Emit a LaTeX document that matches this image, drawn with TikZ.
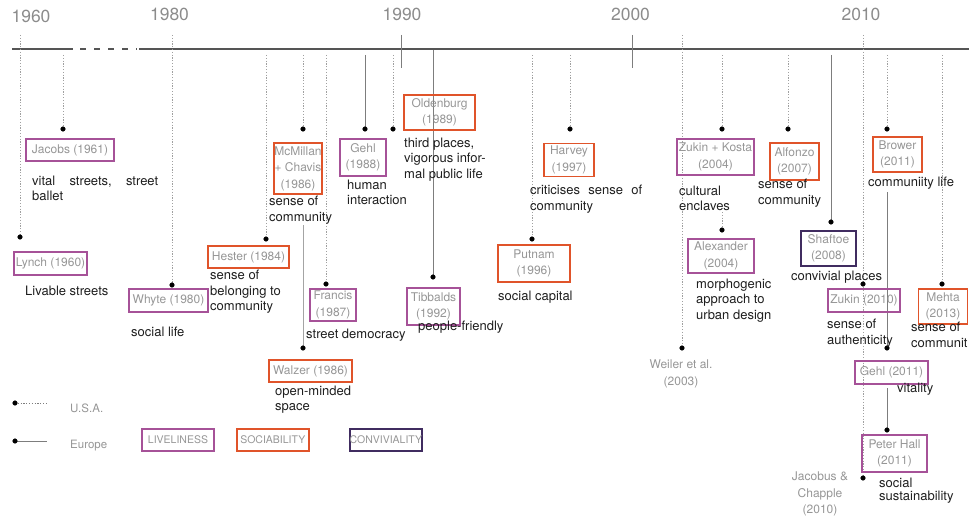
\documentclass[tikz,border=0pt]{standalone}
\usepackage{fontspec}
\setmainfont{TeX Gyre Heros}
\usetikzlibrary{positioning}

\definecolor{lively}{RGB}{166,82,152}
\definecolor{sociable}{RGB}{224,84,42}
\definecolor{convivial}{RGB}{64,44,96}
\definecolor{namegray}{RGB}{150,150,150}
\definecolor{yeargray}{RGB}{140,140,140}
\definecolor{linegray}{RGB}{125,125,125}
\definecolor{dotgray}{RGB}{160,160,160}
\definecolor{axisgray}{RGB}{85,85,85}
\definecolor{textdark}{RGB}{30,30,30}

\newcommand{\yearfont}{\fontsize{17.5}{20}\selectfont}
\newcommand{\namefont}{\fontsize{12}{16.5}\selectfont}
\newcommand{\descfont}{\fontsize{13}{15.3}\selectfont}
\newcommand{\keyfont}{\fontsize{10.5}{12}\selectfont}
\newcommand{\legendfont}{\fontsize{11.5}{13}\selectfont}

\begin{document}
\begin{tikzpicture}[
    x=1pt, y=-1pt,
    livelynode/.style={rectangle, draw=lively, line width=1.8pt, inner sep=0pt, align=center, text=namegray, font=\namefont},
    sociablenode/.style={rectangle, draw=sociable, line width=1.8pt, inner sep=0pt, align=center, text=namegray, font=\namefont},
    convivialnode/.style={rectangle, draw=convivial, line width=1.8pt, inner sep=0pt, align=center, text=namegray, font=\namefont},
    descnode/.style={anchor=north west, inner sep=0pt, align=left, text=textdark, font=\descfont},
    plainnode/.style={inner sep=0pt, align=center, text=namegray, font=\namefont},
    yearnode/.style={inner sep=0pt, text=yeargray, font=\yearfont},
    usaline/.style={dotgray, line width=0.9pt, dash pattern=on 1.2pt off 1.6pt},
    europeline/.style={linegray, line width=1pt},
    axisline/.style={axisgray, line width=2pt},
    ]
      \useasboundingbox (0,0) rectangle (969,519);

      %Timeline
      \draw[axisline] (12,49) -- (73,49);
      \draw[axisline, dash pattern=on 6pt off 8pt] (80,49) -- (137,49);
      \draw[axisline] (139,49) -- (969,49);

      \node (y1960) [yearnode] at (31,16)    {1960};
      \node (y1980) [yearnode] at (169.5,14) {1980};
      \node (y1990) [yearnode] at (402,14)   {1990};
      \node (y2000) [yearnode] at (630.5,14) {2000};
      \node (y2010) [yearnode] at (861,14)   {2010};

      %Top ends
      \coordinate (lynchtop)     at (20,35);
      \coordinate (jacobstop)    at (63,55);
      \coordinate (whytetop)     at (172,35);
      \coordinate (hestertop)    at (266,55);
      \coordinate (mcmillantop)  at (303,55);
      \coordinate (walzertop)    at (303,225);
      \coordinate (francistop)   at (326,55);
      \coordinate (gehlatop)     at (365,55);
      \coordinate (oldenburgtop) at (393,55);
      \coordinate (tibbaldstop)  at (433,50);
      \coordinate (putnamtop)    at (532,55);
      \coordinate (harveytop)    at (570,55);
      \coordinate (weilertop)    at (682,35);
      \coordinate (zukinkostatop) at (722,55);
      \coordinate (alexandertop) at (722,212);
      \coordinate (alfonzotop)   at (788,55);
      \coordinate (shaftoetop)   at (831,55);
      \coordinate (zukintop)     at (863,35);
      \coordinate (browertop)    at (887,55);
      \coordinate (gehlbtop)     at (887,192);
      \coordinate (halltop)      at (887,388);
      \coordinate (mehtatop)     at (942,55);
      \coordinate (tick1990a)    at (401,35);
      \coordinate (tick1990b)    at (401,68);
      \coordinate (tick2000a)    at (632,35);
      \coordinate (tick2000b)    at (632,68);

      %Dots
      \coordinate (lynchdot)     at (20,237);
      \coordinate (jacobsdot)    at (63,129);
      \coordinate (whytedot)     at (172,285);
      \coordinate (hesterdot)    at (266,239);
      \coordinate (mcmillandot)  at (303,129);
      \coordinate (walzerdot)    at (303,348);
      \coordinate (francisdot)   at (326,284);
      \coordinate (gehladot)     at (365,129);
      \coordinate (oldenburgdot) at (393,129);
      \coordinate (tibbaldsdot)  at (433,277);
      \coordinate (putnamdot)    at (532,239);
      \coordinate (harveydot)    at (570,129);
      \coordinate (weilerdot)    at (682,348);
      \coordinate (zukinkostadot) at (722,129);
      \coordinate (alexanderdot) at (722,230);
      \coordinate (alfonzodot)   at (788,129);
      \coordinate (shaftoedot)   at (831,222);
      \coordinate (zukindot)     at (863,284);
      \coordinate (jacobusdot)   at (863,478);
      \coordinate (browerdot)    at (887,129);
      \coordinate (gehlbdot)     at (887,348);
      \coordinate (halldot)      at (887,430);
      \coordinate (mehtadot)     at (942,284);

      %Lines
      \draw[europeline] (tick1990a) to (tick1990b);
      \draw[europeline] (tick2000a) to (tick2000b);

      \draw[usaline] (lynchtop)      to (lynchdot);
      \draw[usaline] (jacobstop)     to (jacobsdot);
      \draw[usaline] (whytetop)      to (whytedot);
      \draw[usaline] (hestertop)     to (hesterdot);
      \draw[usaline] (mcmillantop)   to (mcmillandot);
      \draw[europeline, linegray!70, line width=0.8pt] (walzertop) to (walzerdot);
      \draw[usaline] (francistop)    to (francisdot);
      \draw[europeline] (gehlatop)   to (gehladot);
      \draw[usaline] (oldenburgtop)  to (oldenburgdot);
      \draw[europeline] (tibbaldstop) to (tibbaldsdot);
      \draw[usaline] (putnamtop)     to (putnamdot);
      \draw[usaline] (harveytop)     to (harveydot);
      \draw[usaline] (weilertop)     to (weilerdot);
      \draw[usaline] (zukinkostatop) to (zukinkostadot);
      \draw[usaline] (alexandertop)  to (alexanderdot);
      \draw[usaline] (alfonzotop)    to (alfonzodot);
      \draw[europeline] (shaftoetop) to (shaftoedot);
      \draw[usaline] (zukintop)      to (zukindot) to (jacobusdot);
      \draw[usaline] (browertop)     to (browerdot);
      \draw[europeline] (gehlbtop)   to (gehlbdot);
      \draw[europeline] (halltop)    to (halldot);
      \draw[usaline] (mehtatop)      to (mehtadot);

      \foreach \d in {lynchdot, jacobsdot, whytedot, hesterdot, mcmillandot, walzerdot,
                      francisdot, gehladot, oldenburgdot, tibbaldsdot, putnamdot, harveydot,
                      weilerdot, zukinkostadot, alexanderdot, alfonzodot, shaftoedot, zukindot,
                      jacobusdot, browerdot, gehlbdot, halldot, mehtadot}
        \filldraw [black] (\d) circle (2.3pt);

      %Nodes
      \node (lynch)      [livelynode, minimum width=73, minimum height=23] at (50.5,263.5) {Lynch (1960)};
      \node (jacobs)     [livelynode, minimum width=88, minimum height=22] at (70,150) {Jacobs (1961)};
      \node (whyte)      [livelynode, minimum width=79, minimum height=23] at (168.5,300.5) {Whyte (1980)};
      \node (hester)     [sociablenode, minimum width=81, minimum height=22] at (248.5,257) {Hester (1984)};
      \node (mcmillan)   [sociablenode, minimum width=48, minimum height=51] at (298,168.5) {McMillan\\+ Chavis\\(1986)};
      \node (walzer)     [sociablenode, minimum width=83, minimum height=22] at (310.5,371) {Walzer (1986)};
      \node (francis)    [livelynode, minimum width=46, minimum height=32] at (333,305) {Francis\\(1987)};
      \node (gehla)      [livelynode, minimum width=46, minimum height=37] at (363,157.5) {Gehl\\(1988)};
      \node (oldenburg)  [sociablenode, minimum width=71, minimum height=35] at (439.5,112.5) {Oldenburg\\(1989)};
      \node (tibbalds)   [livelynode, minimum width=53, minimum height=37] at (433.5,306.5) {Tibbalds\\(1992)};
      \node (putnam)     [sociablenode, minimum width=72, minimum height=37] at (534,263.5) {Putnam\\(1996)};
      \node (harvey)     [sociablenode, minimum width=50, minimum height=33] at (569,160) {Harvey\\(1997)};
      \node (zukinkosta) [livelynode, minimum width=77, minimum height=36] at (715.5,157) {Zukin + Kosta\\(2004)};
      \node (alexander)  [livelynode, minimum width=66, minimum height=34] at (721,256) {Alexander\\(2004)};
      \node (alfonzo)    [sociablenode, minimum width=49, minimum height=37] at (794.5,161.5) {Alfonzo\\(2007)};
      \node (shaftoe)    [convivialnode, minimum width=55, minimum height=35] at (828.5,248.5) {Shaftoe\\(2008)};
      \node (zukin)      [livelynode, minimum width=72, minimum height=23] at (864,300.5) {Zukin (2010)};
      \node (brower)     [sociablenode, minimum width=49, minimum height=35] at (897.5,154.5) {Brower\\(2011)};
      \node (mehta)      [sociablenode, minimum width=49, minimum height=35] at (943,306.5) {Mehta\\(2013)};
      \node (gehlb)      [livelynode, minimum width=73, minimum height=23] at (891.5,372.5) {Gehl (2011)};
      \node (hall)       [livelynode, minimum width=65, minimum height=37] at (894.5,453.5) {Peter Hall\\(2011)};

      \node (weiler)     [plainnode] at (681,374)  {Weiler et al.\\(2003)};
      \node (jacobus)    [plainnode] at (820,494)  {Jacobus \&\\Chapple\\(2010)};

      %Descriptions
      \node (lynchtxt)      [descnode] at (25,286)  {Livable streets};
      \node (jacobstxt)     [descnode, text width=126] at (32,176) {vital\hfill streets,\hfill street\\ballet};
      \node (whytetxt)      [descnode] at (131,327) {social life};
      \node (hestertxt)     [descnode] at (210,270) {sense of\\belonging to\\community};
      \node (mcmillantxt)   [descnode] at (269,196) {sense of\\community};
      \node (walzertxt)     [descnode] at (275,386) {open-minded\\space};
      \node (francistxt)    [descnode] at (306,329) {street democracy};
      \node (gehlatxt)      [descnode] at (347,180) {human\\interaction};
      \node (oldenburgtxt)  [descnode] at (404,138) {third places,\\vigorous infor-\\mal public life};
      \node (tibbaldstxt)   [descnode] at (418,321) {people-friendly};
      \node (putnamtxt)     [descnode] at (498,291) {social capital};
      \node (harveytxt)     [descnode, text width=112] at (530,185) {criticises\hfill sense\hfill of\\community};
      \node (zukinkostatxt) [descnode] at (679,186) {cultural\\enclaves};
      \node (alexandertxt)  [descnode] at (696,279) {morphogenic\\approach to\\urban design};
      \node (alfonzotxt)    [descnode] at (758,179) {sense of\\community};
      \node (shaftoetxt)    [descnode] at (791,271) {convivial places};
      \node (zukintxt)      [descnode] at (827,319) {sense of\\authenticity};
      \node (browertxt)     [descnode] at (868,177) {communiity life};
      \node (mehtatxt)      [descnode] at (911,322) {sense of\\communit};
      \node (gehlbtxt)      [descnode] at (897,383) {vitality};
      \node (halltxt)       [descnode, font=\fontsize{13}{13}\selectfont] at (879,478) {social\\sustainability};

      %Legend
      \coordinate (usadot)    at (15,403);
      \coordinate (usaend)    at (47,403);
      \coordinate (europedot) at (15,441);
      \coordinate (europeend) at (47,441);
      \draw[usaline, linegray] (usadot) to (usaend);
      \draw[europeline] (europedot) to (europeend);
      \filldraw [black] (usadot) circle (2.3pt);
      \filldraw [black] (europedot) circle (2.3pt);
      \node (usa)    [anchor=west, inner sep=0pt, text=namegray, font=\legendfont] at (70,408) {U.S.A.};
      \node (europe) [anchor=west, inner sep=0pt, text=namegray, font=\legendfont] at (70,446) {Europe};

      \node (liveliness)   [livelynode, font=\keyfont, minimum width=72, minimum height=22] at (178,440) {LIVELINESS};
      \node (sociability)  [sociablenode, font=\keyfont, minimum width=72, minimum height=22, right=21pt of liveliness] {SOCIABILITY};
      \node (conviviality) [convivialnode, font=\keyfont, minimum width=72, minimum height=22, right=39pt of sociability] {CONVIVIALITY};
    \end{tikzpicture}
\end{document}
